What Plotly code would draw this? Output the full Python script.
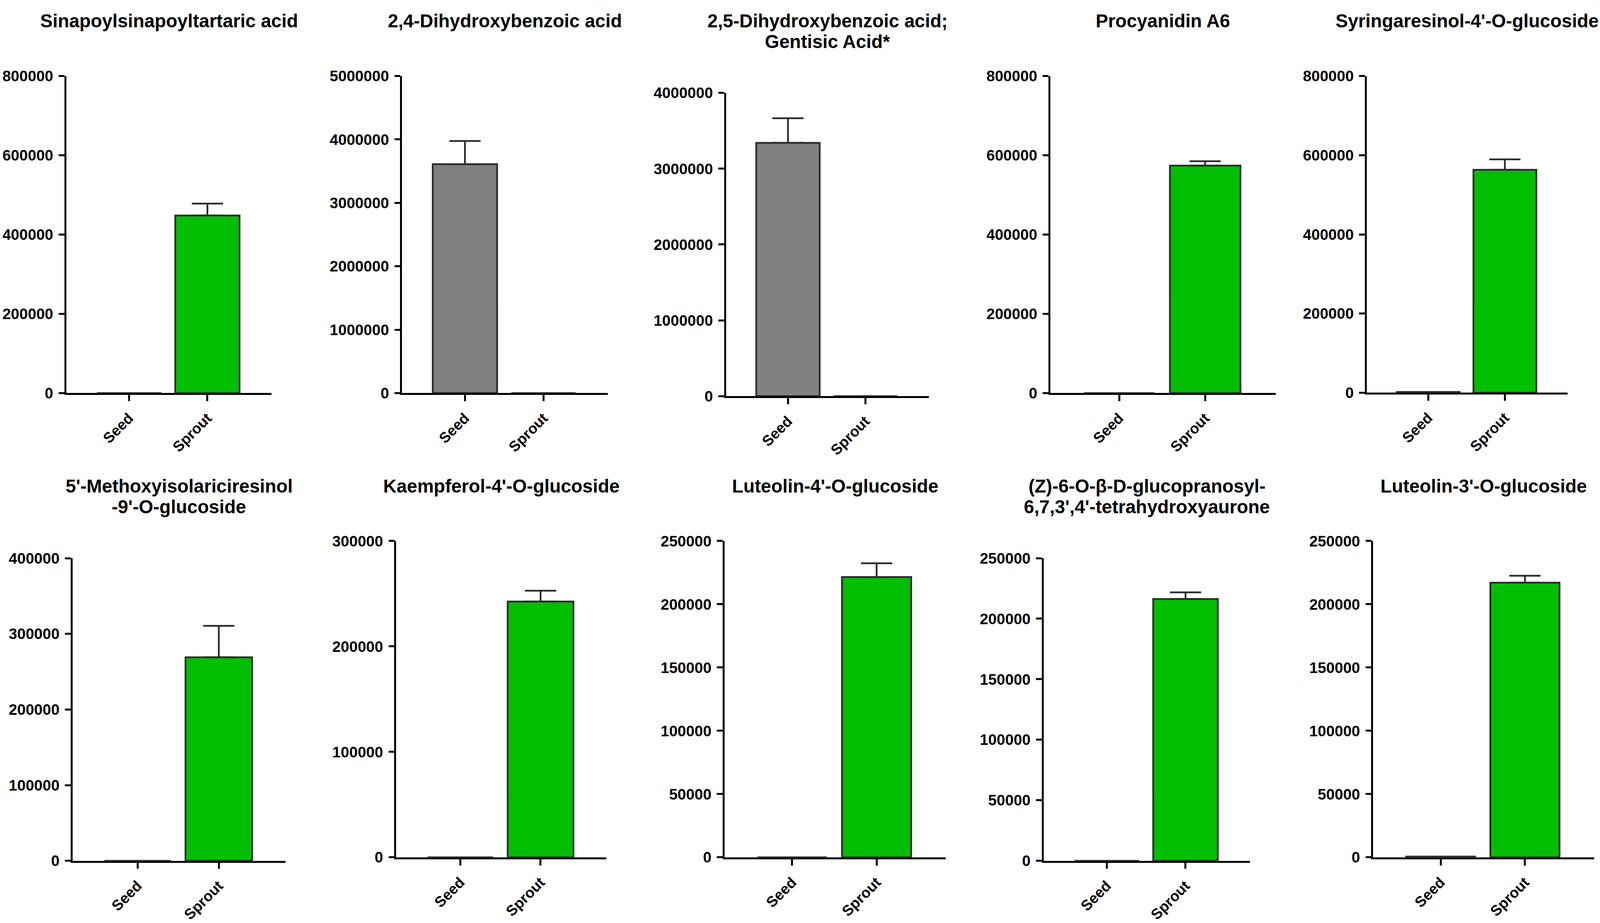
import plotly.graph_objects as go

# datos (Seed vs Sprout, media + error)
titulos = [
    ["Sinapoylsinapoyltartaric acid"],
    ["2,4-Dihydroxybenzoic acid"],
    ["2,5-Dihydroxybenzoic acid;", "Gentisic Acid*"],
    ["Procyanidin A6"],
    ["Syringaresinol-4'-O-glucoside"],
    ["5'-Methoxyisolariciresinol", "-9'-O-glucoside"],
    ["Kaempferol-4'-O-glucoside"],
    ["Luteolin-4'-O-glucoside"],
    ["(Z)-6-O-β-D-glucopranosyl-", "6,7,3',4'-tetrahydroxyaurone"],
    ["Luteolin-3'-O-glucoside"],
]
grupos = ["Seed", "Sprout"]
seed_media = [0, 3610000, 3340000, 0, 2000, 0, 0, 0, 0, 600]
seed_err = [0, 365000, 325000, 0, 0, 0, 0, 0, 0, 0]
sprout_media = [448000, 0, 0, 574000, 563000, 269000, 242600, 221500, 216300, 217000]
sprout_err = [30000, 0, 0, 11000, 26500, 41500, 10200, 10900, 5500, 5500]
y_max = [800000, 5000000, 4000000, 800000, 800000, 400000, 300000, 250000, 250000, 250000]
y_paso = [200000, 1000000, 1000000, 200000, 200000, 100000, 100000, 50000, 50000, 50000]

# medidas tomadas sobre la imagen original (4317 x 2363 px)
W, H = 4317, 2363
# cajas de cada panel: x0, x1, y_top, y_cero
cajas = [
    (179, 733, 177, 1005),
    (1085, 1640, 177, 1005),
    (1959, 2506, 221, 1013),
    (2834, 3442, 177, 1005),
    (3688, 4230, 177, 1004),
    (196, 770, 1436, 2226),
    (1069, 1636, 1391, 2217),
    (1955, 2552, 1391, 2217),
    (2816, 3373, 1436, 2226),
    (3705, 4301, 1391, 2217),
]
titulo_y = [33, 33, 33, 33, 33, 1248, 1248, 1248, 1248, 1248]

VERDE = "#00BF00"
GRIS = "#808080"
BORDE = "#2b2b2b"
FUENTE = "Liberation Sans"

fig = go.Figure()
layout = {}
anotaciones = []

for i in range(10):
    n = i + 1
    xa = "x" if n == 1 else f"x{n}"
    ya = "y" if n == 1 else f"y{n}"
    x0, x1, yt, yb = cajas[i]

    for g, media, err, color in [("Seed", seed_media[i], seed_err[i], GRIS),
                                 ("Sprout", sprout_media[i], sprout_err[i], VERDE)]:
        fig.add_trace(go.Bar(
            x=[g], y=[media], xaxis=xa, yaxis=ya, width=0.82,
            marker=dict(color=color, line=dict(color=BORDE, width=4.5)),
            error_y=dict(type="data", array=[err], arrayminus=[0], symmetric=False,
                         visible=err > 0, color=BORDE, thickness=4.5, width=40),
            showlegend=False))

    layout["xaxis" if n == 1 else f"xaxis{n}"] = dict(
        domain=[x0 / W, x1 / W], anchor=ya,
        type="category", categoryorder="array", categoryarray=grupos,
        range=[-0.8, 1.82], showline=True, linecolor="black", linewidth=4.5,
        ticks="outside", ticklen=16, tickwidth=4.5, tickcolor="black",
        tickangle=-45, ticklabelstandoff=6, showgrid=False, zeroline=False,
        tickfont=dict(family=FUENTE, size=38, color="black", weight="bold"))
    layout["yaxis" if n == 1 else f"yaxis{n}"] = dict(
        domain=[1 - yb / H, 1 - yt / H], anchor=xa,
        range=[0, y_max[i]], tickmode="linear", tick0=0, dtick=y_paso[i],
        tickformat="d", showline=True, linecolor="black", linewidth=4.5,
        ticks="outside", ticklen=15, tickwidth=4.5, tickcolor="black",
        ticklabelstandoff=6, showgrid=False, zeroline=False,
        tickfont=dict(family=FUENTE, size=39, color="black", weight="bold"))

    for k, linea in enumerate(titulos[i]):
        anotaciones.append(dict(
            text=linea, xref="paper", yref="paper",
            x=(x0 + x1) / 2 / W, y=1 - (titulo_y[i] + 54 * k) / H,
            xanchor="center", yanchor="middle", showarrow=False,
            font=dict(family=FUENTE, size=47.5, color="black", weight="bold")))

fig.update_layout(**layout)
fig.update_layout(
    margin=dict(l=0, r=0, t=0, b=0),
    paper_bgcolor="white", plot_bgcolor="white",
    barmode="overlay", annotations=anotaciones)

fig.write_html("out.html", default_width="100vw", default_height="100vh",
               config={"displayModeBar": False},
               post_script="document.body.style.margin = '0';")
